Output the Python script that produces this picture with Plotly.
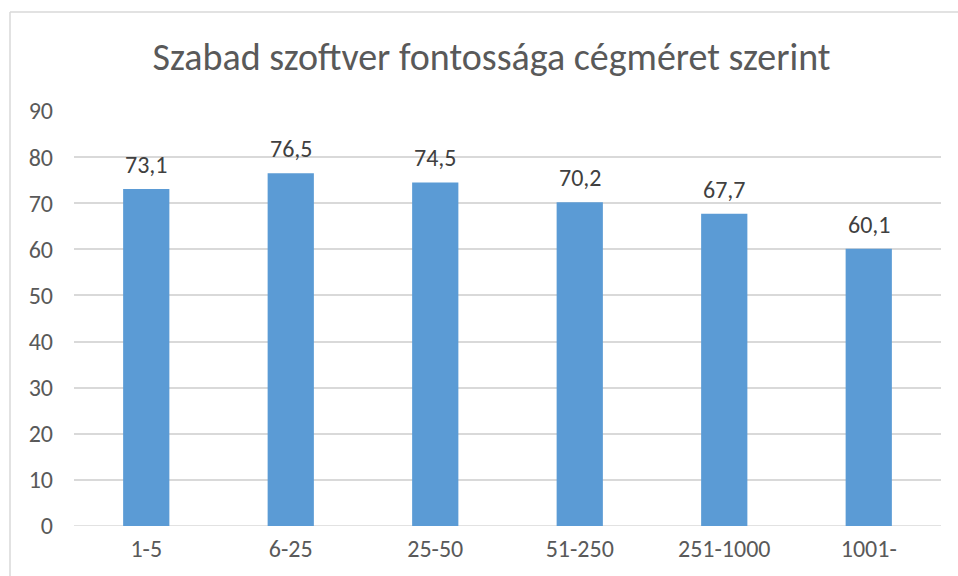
import plotly.graph_objects as go

categories = ["1-5", "6-25", "25-50", "51-250", "251-1000", "1001-"]
values = [73.1, 76.5, 74.5, 70.2, 67.7, 60.1]
labels = ["73,1", "76,5", "74,5", "70,2", "67,7", "60,1"]
y_ticks = [0, 10, 20, 30, 40, 50, 60, 70, 80, 90]

FONT = "Carlito, Lato, 'Open Sans', sans-serif"

fig = go.Figure(go.Bar(
    x=categories, y=values,
    marker=dict(color="#5B9BD5", line=dict(width=0)),
    cliponaxis=False, hoverinfo="skip",
))

L, R, T, B = 74, 17, 111, 50
W, H = 958, 576
pw, ph = W - L - R, H - T - B

annotations = [
    dict(x=c, y=v, text=t, xref="x", yref="y", showarrow=False,
         yanchor="bottom", yshift=8,
         font=dict(family=FONT, size=24, color="#404040"))
    for c, v, t in zip(categories, values, labels)
]

fig.update_layout(
    width=W, height=H,
    margin=dict(l=L, r=R, t=T, b=B, pad=0),
    paper_bgcolor="white", plot_bgcolor="white",
    bargap=0.68,
    showlegend=False,
    annotations=annotations,
    title=dict(text="Szabad szoftver fontossága cégméret szerint",
               x=491.5 / W, xref="container", xanchor="center", y=1 - 57 / H, yanchor="middle",
               font=dict(family=FONT, size=38, color="#595959", weight=300)),
    xaxis=dict(showgrid=False, showline=False, ticks="",
               tickfont=dict(family=FONT, size=24, color="#595959")),
    yaxis=dict(range=[0, 90], tickvals=y_ticks, showgrid=True, gridcolor="#D9D9D9",
               gridwidth=1.5, zeroline=False, showline=False, ticks="",
               tickfont=dict(family=FONT, size=24, color="#595959")),
    shapes=[
        dict(type="line", xref="paper", yref="paper", x0=(10 - L) / pw, x1=(W - L) / pw,
             y0=(H - B - 12) / ph, y1=(H - B - 12) / ph, line=dict(color="#D9D9D9", width=1.5)),
        dict(type="line", xref="paper", yref="paper", x0=(10 - L) / pw, x1=(10 - L) / pw,
             y0=-0.3, y1=(H - B - 12) / ph, line=dict(color="#D9D9D9", width=1.5)),
        dict(type="line", xref="paper", yref="y", x0=0, x1=1, y0=0, y1=0,
             line=dict(color="#D9D9D9", width=1.5), layer="below"),
    ],
)
fig.update_xaxes(ticklabelstandoff=6)
fig.update_yaxes(ticklabelstandoff=20)

fig.write_html("out.html", config={"displayModeBar": False},
               post_script="document.body.style.margin='0';document.body.style.overflow='hidden';")
